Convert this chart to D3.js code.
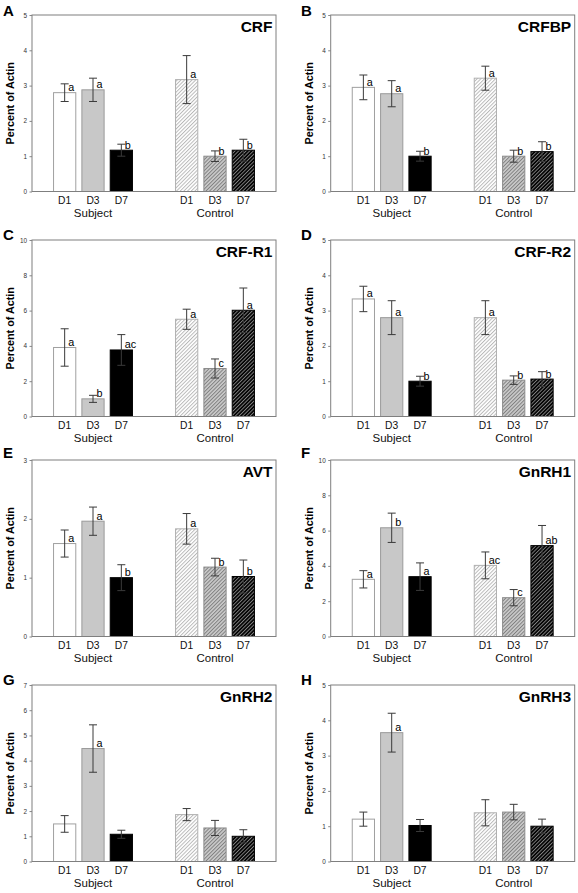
<!DOCTYPE html>
<html>
<head>
<meta charset="utf-8">
<script src="https://cdn.jsdelivr.net/npm/d3@7"></script>
<style>
  html, body { margin: 0; padding: 0; background: #fff; }
  svg { display: block; font-family: "Liberation Sans", Arial, Helvetica, sans-serif; }
</style>
</head>
<body>
<svg id="chart" width="578" height="893"></svg>
<script>
// ---------- data ----------
const groups = ["Subject", "Control"];
const days = ["D1", "D3", "D7"];
const panelLetters = ["A", "B", "C", "D", "E", "F", "G", "H"];
const titles = ["CRF", "CRFBP", "CRF-R1", "CRF-R2", "AVT", "GnRH1", "GnRH2", "GnRH3"];
const yMaxes = [5, 5, 10, 5, 3, 10, 7, 5];
const yTickSteps = [1, 1, 2, 1, 1, 2, 1, 1];

// order: Subject D1, D3, D7, Control D1, D3, D7
const crfMean   = [2.80, 2.88, 1.17, 3.17, 1.00, 1.17];
const crfErr    = [0.25, 0.33, 0.17, 0.68, 0.15, 0.31];
const crfSig    = ["a", "a", "b", "a", "b", "b"];
const crfbpMean = [2.95, 2.77, 1.00, 3.21, 1.00, 1.13];
const crfbpErr  = [0.35, 0.37, 0.14, 0.34, 0.17, 0.28];
const crfbpSig  = ["a", "a", "b", "a", "b", "b"];
const crfr1Mean = [3.91, 1.00, 3.77, 5.51, 2.72, 6.02];
const crfr1Err  = [1.06, 0.20, 0.87, 0.57, 0.54, 1.26];
const crfr1Sig  = ["a", "b", "ac", "a", "c", "a"];
const crfr2Mean = [3.33, 2.80, 1.00, 2.80, 1.03, 1.06];
const crfr2Err  = [0.36, 0.48, 0.14, 0.48, 0.12, 0.21];
const crfr2Sig  = ["a", "a", "b", "a", "b", "b"];
const avtMean   = [1.58, 1.96, 1.00, 1.83, 1.18, 1.02];
const avtErr    = [0.23, 0.24, 0.22, 0.26, 0.15, 0.28];
const avtSig    = ["a", "a", "b", "a", "b", "b"];
const gnrh1Mean = [3.24, 6.16, 3.39, 4.03, 2.20, 5.15];
const gnrh1Err  = [0.49, 0.83, 0.78, 0.76, 0.46, 1.14];
const gnrh1Sig  = ["a", "b", "a", "ac", "c", "ab"];
const gnrh2Mean = [1.49, 4.48, 1.08, 1.86, 1.33, 1.00];
const gnrh2Err  = [0.33, 0.94, 0.16, 0.24, 0.30, 0.26];
const gnrh2Sig  = ["", "a", "", "", "", ""];
const gnrh3Mean = [1.20, 3.65, 1.02, 1.38, 1.40, 1.00];
const gnrh3Err  = [0.20, 0.55, 0.17, 0.37, 0.22, 0.20];
const gnrh3Sig  = ["", "a", "", "", "", ""];

const yLabel = "Percent of Actin";

const panelMeans = [crfMean, crfbpMean, crfr1Mean, crfr2Mean, avtMean, gnrh1Mean, gnrh2Mean, gnrh3Mean];
const panelErrs  = [crfErr, crfbpErr, crfr1Err, crfr2Err, avtErr, gnrh1Err, gnrh2Err, gnrh3Err];
const panelSigs  = [crfSig, crfbpSig, crfr1Sig, crfr2Sig, avtSig, gnrh1Sig, gnrh2Sig, gnrh3Sig];

// ---------- layout ----------
const colLeft = [32, 330.7];
const rowTop = [15, 240, 460, 685];
const letterBase = [15.5, 240, 457.5, 684.5];
const plotW = 244, plotH = 176.5;
const FONT = '"Liberation Sans", Arial, Helvetica, sans-serif';

const svg = d3.select("#chart");
const defs = svg.append("defs");

function hatch(id, bg, line) {
  const p = defs.append("pattern")
    .attr("id", id).attr("patternUnits", "userSpaceOnUse")
    .attr("width", 2.6).attr("height", 2.6)
    .attr("patternTransform", "rotate(45)");
  p.append("rect").attr("width", 2.6).attr("height", 2.6).attr("fill", bg);
  p.append("line").attr("x1", 0.5).attr("y1", 0).attr("x2", 0.5).attr("y2", 2.6)
    .attr("stroke", line).attr("stroke-width", 0.9);
}
hatch("h1", "#ffffff", "#b4b4b4");
hatch("h3", "#cacaca", "#7a7a7a");
hatch("h7", "#000000", "#8a8a8a");

const styles = {
  Subject: {
    D1: { fill: "#ffffff", stroke: "#a0a0a0" },
    D3: { fill: "#c8c8c8", stroke: "#9a9a9a" },
    D7: { fill: "#000000", stroke: "#000000" }
  },
  Control: {
    D1: { fill: "url(#h1)", stroke: "#b0b0b0" },
    D3: { fill: "url(#h3)", stroke: "#8c8c8c" },
    D7: { fill: "url(#h7)", stroke: "#000000" }
  }
};

panelLetters.forEach((letter, i) => {
  const col = i % 2, row = Math.floor(i / 2);
  const left = colLeft[col], top = rowTop[row];
  const g = svg.append("g").attr("transform", `translate(${left},${top})`);

  const y = d3.scaleLinear().domain([0, yMaxes[i]]).range([plotH, 0]);
  const gx = d3.scalePoint().domain(groups).range([0, plotW]).padding(0.5);
  const dx = d3.scaleBand().domain(days).range([-42.5, 42.5]).paddingInner(0.18).paddingOuter(0.09);

  const data = [];
  groups.forEach((grp, gi) => days.forEach((day, di) => {
    const k = gi * 3 + di;
    data.push({ grp, day, mean: panelMeans[i][k], err: panelErrs[i][k], sig: panelSigs[i][k] });
  }));

  // y axis
  const ticks = d3.range(0, yMaxes[i] + 0.001, yTickSteps[i]);
  const yAxis = d3.axisLeft(y).tickValues(ticks).tickSize(2.5).tickPadding(2.5).tickFormat(d3.format("d"));
  const ax = g.append("g").call(yAxis);
  ax.select(".domain").remove();
  ax.selectAll(".tick line").attr("stroke", "#888");
  ax.selectAll(".tick text").attr("font-size", 6.4).attr("fill", "#333").attr("font-family", FONT);

  // bars
  g.selectAll("rect.bar").data(data).join("rect")
    .attr("class", "bar")
    .attr("x", d => gx(d.grp) + dx(d.day) + 0.5)
    .attr("width", dx.bandwidth() - 1)
    .attr("y", d => y(d.mean))
    .attr("height", d => plotH - y(d.mean))
    .attr("fill", d => styles[d.grp][d.day].fill)
    .attr("stroke", d => styles[d.grp][d.day].stroke)
    .attr("stroke-width", 1);

  // error bars
  const cx = d => gx(d.grp) + dx(d.day) + dx.bandwidth() / 2;
  const eb = g.selectAll("g.err").data(data).join("g").attr("class", "err")
    .attr("stroke", "#3a3a3a").attr("stroke-width", 1);
  eb.append("line").attr("x1", cx).attr("x2", cx)
    .attr("y1", d => y(d.mean + d.err)).attr("y2", d => y(d.mean - d.err));
  eb.append("line").attr("x1", d => cx(d) - 4).attr("x2", d => cx(d) + 4)
    .attr("y1", d => y(d.mean + d.err)).attr("y2", d => y(d.mean + d.err));
  eb.append("line").attr("x1", d => cx(d) - 4).attr("x2", d => cx(d) + 4)
    .attr("y1", d => y(d.mean - d.err)).attr("y2", d => y(d.mean - d.err));

  // significance letters
  g.selectAll("text.sig").data(data.filter(d => d.sig)).join("text")
    .attr("class", "sig")
    .attr("x", d => cx(d) + 3.5)
    .attr("y", d => y(d.mean) - 1.5)
    .attr("font-size", 10.8).attr("fill", "#000")
    .text(d => d.sig);

  // frame
  g.append("rect").attr("x", 0).attr("y", 0).attr("width", plotW).attr("height", plotH)
    .attr("fill", "none").attr("stroke", "#7f7f7f").attr("stroke-width", 1);

  // x labels
  g.selectAll("text.day").data(data).join("text")
    .attr("class", "day")
    .attr("x", cx).attr("y", plotH + 12.5)
    .attr("text-anchor", "middle").attr("font-size", 10.3).attr("fill", "#111")
    .text(d => d.day);
  g.selectAll("text.grp").data(groups).join("text")
    .attr("class", "grp")
    .attr("x", d => gx(d)).attr("y", plotH + 25.3)
    .attr("text-anchor", "middle").attr("font-size", 11.5).attr("fill", "#111")
    .text(d => d);

  // title
  g.append("text").attr("x", plotW - 3.5).attr("y", 17.3)
    .attr("text-anchor", "end").attr("font-size", 15.5).attr("font-weight", "bold")
    .text(titles[i]);

  // y label
  g.append("text")
    .attr("transform", `translate(-18,${plotH / 2}) rotate(-90)`)
    .attr("text-anchor", "middle").attr("font-size", 10.8).attr("font-weight", "bold")
    .text(yLabel);

  // panel letter
  svg.append("text")
    .attr("x", col === 0 ? 3 : 301)
    .attr("y", letterBase[row])
    .attr("font-size", 15).attr("font-weight", "bold")
    .text(letter);
});
</script>
</body>
</html>
